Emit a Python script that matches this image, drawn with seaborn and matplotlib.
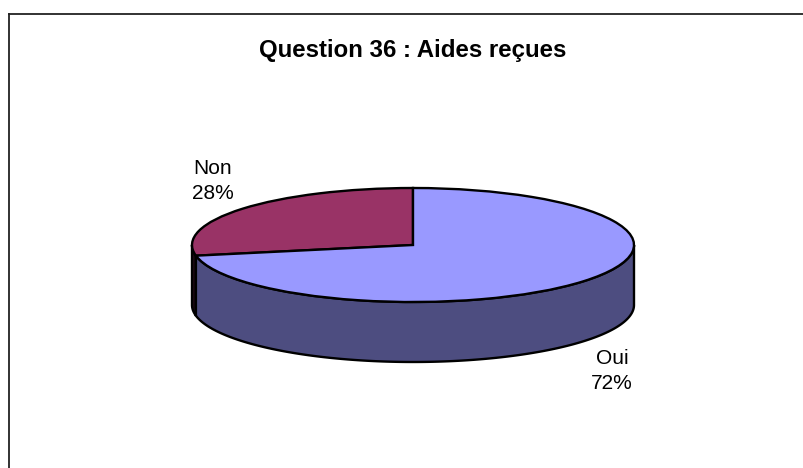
import numpy as np
import matplotlib
matplotlib.use("Agg")
import matplotlib.pyplot as plt
import seaborn as sns

# Data
categories = ["Oui", "Non"]
values = [72, 28]
title = "Question 36 : Aides reçues"

top_colors = ["#9999ff", "#993366"]
side_colors = ["#4d4d80", "#200a15"]

W, H = 804, 468
CX, CY = 413, 245      # centre of the top ellipse
RX, RY = 221, 57       # radii of the ellipse
DEPTH = 60 / RY        # height of the side wall

sns.set_style("white")
plt.rcParams["font.family"] = ["Liberation Sans", "DejaVu Sans"]

fig = plt.figure(figsize=(W / 100, H / 100), dpi=100)

# Chart frame: only left and top are inside the picture
frame = fig.add_axes([8.8 / W, 0, 1 - 8.8 / W, (H - 14.2) / H])
frame.set_xticks([])
frame.set_yticks([])
sns.despine(ax=frame, top=False, right=True, left=False, bottom=True)
for side in ["left", "top"]:
    frame.spines[side].set_color("#222222")
    frame.spines[side].set_linewidth(1.3)

ax = fig.add_axes([0, 0, 1, 1])
ax.patch.set_alpha(0)
ax.axis("off")

# Side wall, front half of each slice
start = 90.0
for val, col in zip(values[::-1], side_colors[::-1]):
    end = start + val * 3.6
    lo, hi = max(start, 180), min(end, 360)
    if hi > lo:
        a = np.radians(np.linspace(lo, hi, 200))
        xs = np.cos(a)
        ys = np.sin(a)
        ax.fill(np.r_[xs, xs[::-1]], np.r_[ys, ys[::-1] - DEPTH],
                facecolor=col, edgecolor="black", linewidth=1.7, zorder=1)
    start = end

# Top of the pie, squashed afterwards by the axis limits
ax.pie(values[::-1], colors=top_colors[::-1], startangle=90, counterclock=True,
       wedgeprops={"edgecolor": "black", "linewidth": 1.7, "zorder": 2})
ax.set_aspect("auto")
ax.set_xlim(-CX / RX, (W - CX) / RX)
ax.set_ylim((CY - H) / RY, CY / RY)

fig.text(413 / W, 1 - 50 / H, title, ha="center", va="center",
         fontsize=17.3, fontweight="bold", color="black")

label_pos = {"Oui": (612, 371), "Non": (212.5, 181)}
for name, val in zip(categories, values):
    px, py = label_pos[name]
    fig.text(px / W, 1 - py / H, f"{name}\n{val}%", ha="center", va="center",
             fontsize=15, linespacing=1.43, color="black")

fig.savefig("out.png", dpi=100)
